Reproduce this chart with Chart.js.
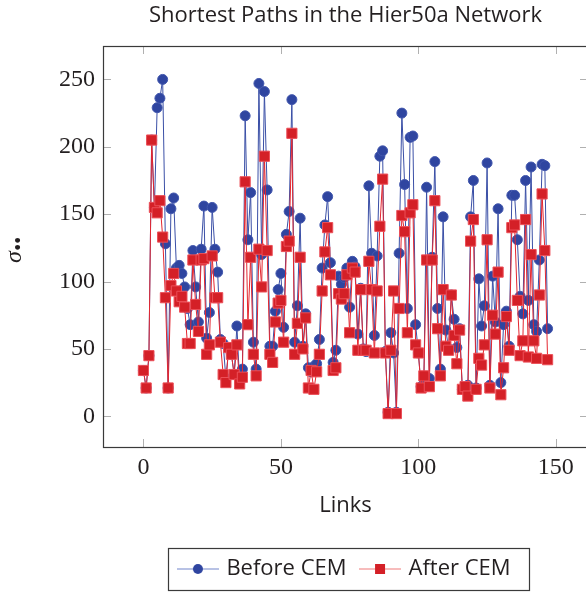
<!DOCTYPE html>
<html>
<head>
<meta charset="utf-8">
<script src="https://cdn.jsdelivr.net/npm/chart.js@4.4.1/dist/chart.umd.min.js"></script>
<style>
  html, body { margin: 0; padding: 0; background: #fff; overflow: hidden; }
  #wrap { position: relative; width: 600px; height: 594px; }
</style>
</head>
<body>
<div id="wrap"><canvas id="chart"></canvas></div>
<script>
// sigma values per link (index = link number)
const beforeCEM = [
  34, 21, 45, 205, 155, 229, 236, 250, 128, 21,
  154, 162, 110, 112, 106, 96, 80, 68, 123, 96,
  70, 124, 156, 58, 77, 155, 124, 107, 57, 54,
  28, 50, 46, 31, 67, 25, 35, 223, 131, 166,
  55, 35, 247, 120, 241, 168, 52, 52, 78, 94,
  106, 66, 135, 152, 235, 55, 82, 147, 52, 76,
  36, 33, 37, 39, 57, 110, 142, 163, 114, 40,
  49, 104, 98, 103, 110, 81, 115, 111, 61, 95,
  50, 48, 171, 121, 60, 119, 193, 197, 48, 3,
  62, 47, 3, 121, 225, 172, 80, 207, 208, 68,
  47, 22, 24, 170, 28, 118, 189, 80, 35, 148,
  64, 50, 90, 72, 51, 65, 20, 22, 23, 148,
  175, 21, 102, 67, 82, 188, 23, 104, 70, 154,
  25, 68, 78, 52, 164, 164, 131, 89, 76, 175,
  86, 185, 68, 63, 116, 187, 186, 65
]
const afterCEM = [
  34, 21, 45, 205, 155, 151, 160, 133, 88, 21,
  97, 106, 93, 85, 89, 81, 54, 54, 116, 83,
  63, 116, 117, 46, 53, 119, 88, 88, 55, 31,
  25, 51, 46, 31, 53, 24, 29, 174, 68, 118,
  46, 30, 124, 96, 193, 123, 46, 40, 70, 84,
  86, 55, 126, 130, 210, 46, 69, 118, 50, 73,
  21, 34, 20, 33, 46, 93, 122, 140, 105, 34,
  36, 91, 87, 91, 105, 62, 110, 107, 49, 94,
  49, 49, 115, 94, 47, 93, 141, 176, 47, 2,
  49, 93, 2, 80, 149, 137, 62, 151, 157, 53,
  47, 21, 30, 116, 22, 116, 160, 65, 30, 94,
  52, 49, 90, 60, 39, 64, 20, 22, 15, 130,
  146, 20, 43, 38, 53, 131, 21, 75, 61, 107,
  16, 36, 74, 49, 140, 142, 86, 45, 56, 146,
  44, 120, 56, 43, 90, 165, 123, 42
]
const links = beforeCEM.map((_, i) => i)
const xTickValues = [0, 50, 100, 150]
const yTickValues = [0, 50, 100, 150, 200, 250]
const seriesNames = ['Before CEM', 'After CEM']

const textColor = '#231f20'
const sansFont = "'Open Sans', 'Noto Sans', sans-serif"
const serifFont = "'Liberation Serif', 'DejaVu Serif', serif"

// legend symbols: short line with the marker in the middle
function legendSymbol(lineColor, fill, square) {
  const c = document.createElement('canvas')
  c.width = 42
  c.height = 14
  const g = c.getContext('2d')
  g.strokeStyle = lineColor
  g.lineWidth = 1.2
  g.beginPath()
  g.moveTo(0, 7)
  g.lineTo(42, 7)
  g.stroke()
  g.fillStyle = fill
  if (square) {
    g.fillRect(16, 2, 10, 10)
  } else {
    g.beginPath()
    g.arc(21, 7, 5, 0, Math.PI * 2)
    g.fill()
  }
  return c
}

// box, inward ticks, y label and legend frame (pgfplots look)
const framePlugin = {
  id: 'frame',
  beforeDatasetsDraw(chart) {
    const {ctx, chartArea: a, scales: {x, y}} = chart
    ctx.save()
    ctx.strokeStyle = '#b0b0b0'
    ctx.lineWidth = 1
    const tl = 8
    ctx.beginPath()
    x.ticks.forEach(t => {
      const px = Math.round(x.getPixelForValue(t.value)) + 0.5
      ctx.moveTo(px, a.bottom); ctx.lineTo(px, a.bottom - tl)
      ctx.moveTo(px, a.top); ctx.lineTo(px, a.top + tl)
    })
    y.ticks.forEach(t => {
      const py = Math.round(y.getPixelForValue(t.value)) + 0.5
      ctx.moveTo(a.left, py); ctx.lineTo(a.left + tl, py)
      ctx.moveTo(a.right, py); ctx.lineTo(a.right - tl, py)
    })
    ctx.stroke()
    ctx.strokeStyle = '#3a3a3a'
    ctx.lineWidth = 1.2
    ctx.strokeRect(Math.round(a.left) + 0.5, Math.round(a.top) + 0.5,
      Math.round(a.right - a.left), Math.round(a.bottom - a.top))
    ctx.restore()
  },
  afterDraw(chart) {
    const {ctx} = chart
    // y axis label: sigma with two bullet subscripts, rotated
    ctx.save()
    ctx.fillStyle = textColor
    ctx.translate(20.5, 263)
    ctx.rotate(-Math.PI / 2)
    ctx.textBaseline = 'alphabetic'
    ctx.textAlign = 'left'
    ctx.font = `italic 24px ${serifFont}`
    ctx.fillText('σ', 0, 0)
    const w = ctx.measureText('σ').width
    ctx.font = `20px ${serifFont}`
    ctx.fillText('••', w + 0.5, 4)
    ctx.restore()

    // frame round the legend
    const hb = chart.legend.legendHitBoxes
    if (hb && hb.length) {
      const first = hb[0], last = hb[hb.length - 1]
      const cy = first.top + first.height / 2
      ctx.save()
      ctx.strokeStyle = '#3a3a3a'
      ctx.lineWidth = 1.2
      const left = Math.round(first.left - 12.5) + 0.5
      const right = Math.round(last.left + last.width + 18) + 0.5
      ctx.strokeRect(left, Math.round(cy - 21) + 0.5, right - left, 42)
      ctx.restore()
    }
  }
}

const ctx = document.getElementById('chart').getContext('2d')
new Chart(ctx, {
  type: 'line',
  data: {
    datasets: [
      {
        label: seriesNames[0],
        data: links.map(i => ({x: i, y: beforeCEM[i]})),
        borderColor: '#3a4fa6',
        borderWidth: 1,
        backgroundColor: '#2f45a0',
        pointBackgroundColor: '#2f45a0',
        pointBorderColor: '#4257ad',
        pointBorderWidth: 1,
        pointRadius: 5,
        pointStyle: 'circle',
        tension: 0,
        order: 1
      },
      {
        label: seriesNames[1],
        data: links.map(i => ({x: i, y: afterCEM[i]})),
        borderColor: '#e4262f',
        borderWidth: 1,
        backgroundColor: '#d42027',
        pointBackgroundColor: '#d42027',
        pointBorderColor: '#ec4f58',
        pointBorderWidth: 1,
        pointRadius: 7.2,
        pointStyle: 'rect',
        tension: 0,
        order: 0
      }
    ]
  },
  options: {
    responsive: true,
    maintainAspectRatio: false,
    animation: false,
    devicePixelRatio: 1,
    layout: {padding: {left: 0, right: 12, top: 0, bottom: 4}},
    elements: {point: {hoverRadius: 5}},
    scales: {
      x: {
        type: 'linear',
        min: -14.7,
        max: 161.7,
        afterBuildTicks: s => { s.ticks = xTickValues.map(v => ({value: v})) },
        afterFit: s => { s.height = 95 },
        grid: {display: false, drawTicks: false},
        border: {display: false},
        ticks: {
          padding: 6,
          color: textColor,
          font: {family: serifFont, size: 24},
          callback: v => String(v)
        },
        title: {
          display: true,
          text: 'Links',
          color: textColor,
          font: {family: sansFont, size: 22},
          padding: {top: 0, bottom: 23}
        }
      },
      y: {
        min: -22.8,
        max: 274.8,
        afterBuildTicks: s => { s.ticks = yTickValues.map(v => ({value: v})) },
        afterFit: s => { s.width = 103 },
        grid: {display: false, drawTicks: false},
        border: {display: false},
        ticks: {
          padding: 8,
          color: textColor,
          font: {family: serifFont, size: 24},
          callback: v => String(v)
        }
      }
    },
    plugins: {
      title: {
        display: true,
        text: 'Shortest Paths in the Hier50a Network',
        color: textColor,
        fullSize: false,
        font: {family: sansFont, size: 22, weight: 'normal'},
        padding: {top: 3, bottom: 16.6}
      },
      legend: {
        position: 'bottom',
        fullSize: false,
        sort: (a, b) => a.datasetIndex - b.datasetIndex,
        labels: {
          usePointStyle: true,
          pointStyleWidth: 35,
          padding: 16,
          color: textColor,
          font: {family: sansFont, size: 22},
          generateLabels: chart => chart.data.datasets.map((d, i) => ({
            text: d.label,
            datasetIndex: i,
            fontColor: textColor,
            pointStyle: i === 0 ? legendSymbol('#7385cc', '#2f45a0', false) : legendSymbol('#f07a7a', '#d42027', true),
            lineWidth: 0,
            hidden: false
          }))
        }
      },
      tooltip: {enabled: false}
    }
  },
  plugins: [framePlugin]
})
</script>
</body>
</html>
